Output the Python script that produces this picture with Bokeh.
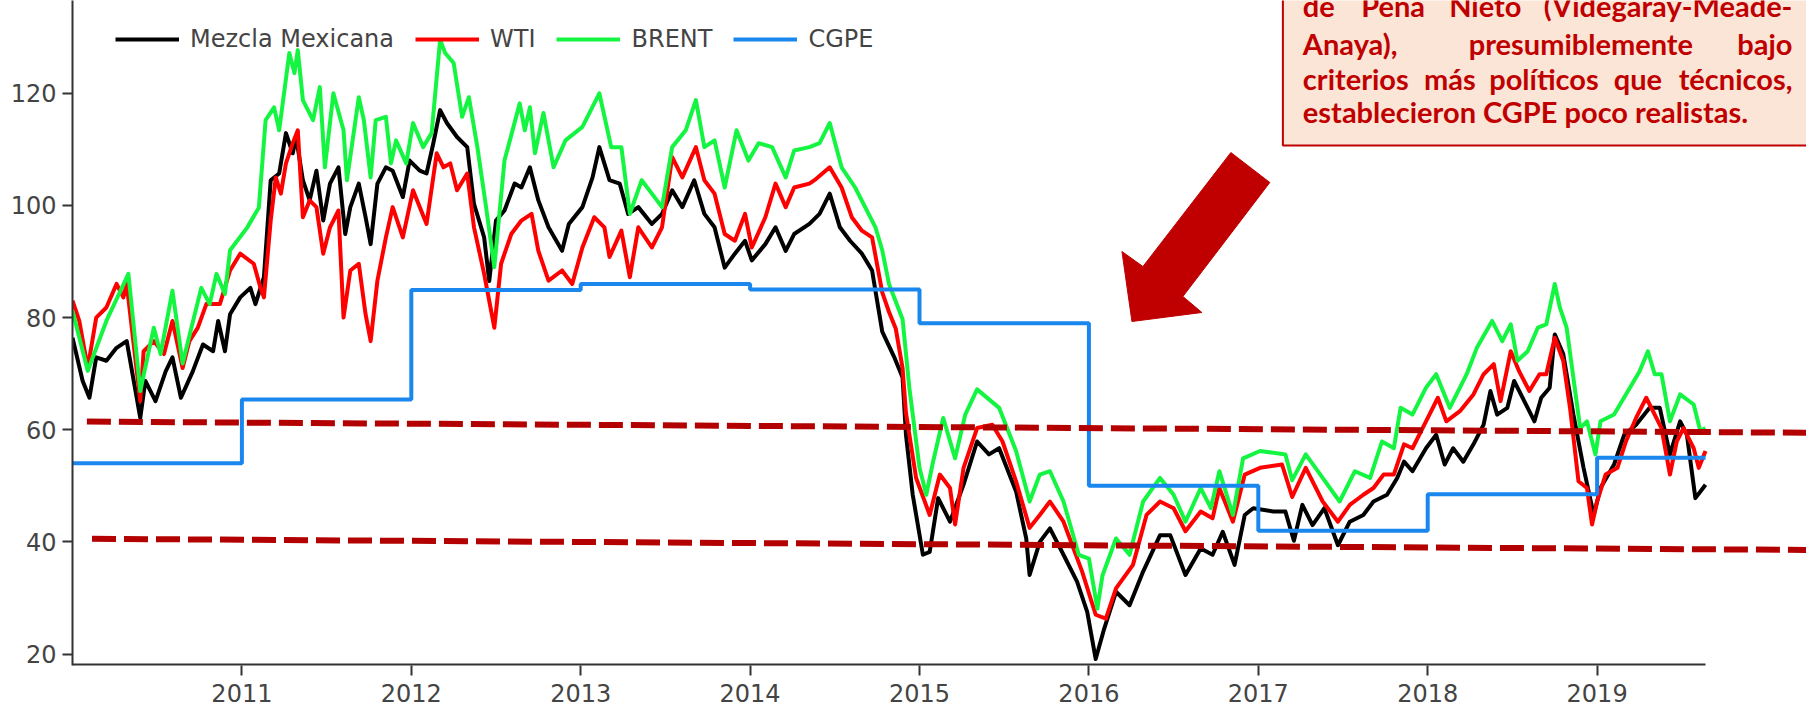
from bokeh.plotting import figure
from bokeh.models import Range1d, FixedTicker, Legend, LegendItem
from bokeh.core.properties import value
from bokeh.embed import file_html
from bokeh.resources import INLINE

# ---------------- data (decimal years, USD per barrel) ----------------
mezcla_t = [2010.00, 2010.06, 2010.10, 2010.14, 2010.20, 2010.26, 2010.32, 2010.40, 2010.43, 2010.49,
            2010.55, 2010.59, 2010.64, 2010.71, 2010.77, 2010.83, 2010.86, 2010.90, 2010.93, 2010.99,
            2011.05, 2011.08, 2011.13, 2011.17, 2011.22, 2011.26, 2011.30, 2011.32, 2011.36, 2011.40,
            2011.44, 2011.48, 2011.52, 2011.57, 2011.61, 2011.64, 2011.69, 2011.73, 2011.76, 2011.80,
            2011.85, 2011.89, 2011.95, 2011.99, 2012.05, 2012.09, 2012.13, 2012.17, 2012.21, 2012.27,
            2012.33, 2012.37, 2012.43, 2012.46, 2012.50, 2012.55, 2012.61, 2012.65, 2012.70, 2012.75,
            2012.81, 2012.89, 2012.93, 2013.01, 2013.07, 2013.11, 2013.17, 2013.23, 2013.28, 2013.34,
            2013.42, 2013.48, 2013.54, 2013.60, 2013.67, 2013.73, 2013.79, 2013.85, 2013.91, 2013.97,
            2014.01, 2014.09, 2014.15, 2014.21, 2014.26, 2014.35, 2014.41, 2014.47, 2014.53, 2014.59,
            2014.66, 2014.72, 2014.78, 2014.85, 2014.90, 2014.92, 2014.96, 2015.02, 2015.06, 2015.11,
            2015.18, 2015.26, 2015.34, 2015.41, 2015.47, 2015.57, 2015.63, 2015.65, 2015.71, 2015.77,
            2015.85, 2015.93, 2015.99, 2016.04, 2016.09, 2016.16, 2016.24, 2016.32, 2016.42, 2016.48,
            2016.57, 2016.66, 2016.73, 2016.79, 2016.86, 2016.92, 2016.97, 2017.09, 2017.16, 2017.21,
            2017.26, 2017.32, 2017.39, 2017.47, 2017.54, 2017.62, 2017.68, 2017.76, 2017.82, 2017.86,
            2017.91, 2017.99, 2018.05, 2018.10, 2018.15, 2018.21, 2018.27, 2018.33, 2018.37, 2018.41,
            2018.47, 2018.51, 2018.57, 2018.63, 2018.67, 2018.72, 2018.75, 2018.80, 2018.86, 2018.92,
            2018.98, 2019.02, 2019.10, 2019.16, 2019.23, 2019.31, 2019.37, 2019.43, 2019.49, 2019.53,
            2019.58, 2019.64]
mezcla = [76.4, 68.7, 65.7, 72.9, 72.3, 74.6, 75.8, 62.1, 68.7, 65.1,
          70.4, 72.9, 65.7, 70.4, 75.2, 74.0, 79.4, 74.0, 80.6, 83.6,
          85.3, 82.4, 87.2, 104.5, 105.7, 112.9, 109.3, 112.2, 104.5, 100.9,
          106.2, 97.3, 103.9, 106.8, 94.9, 99.7, 103.9, 97.9, 93.1, 103.9,
          106.8, 106.2, 101.5, 108.0, 106.2, 105.7, 111.1, 117.0, 114.7, 112.2,
          110.4, 100.3, 94.3, 86.5, 97.3, 99.1, 103.9, 103.2, 106.8, 100.9,
          96.1, 91.9, 96.7, 99.7, 105.0, 110.4, 104.5, 103.9, 98.5, 99.7,
          96.7, 98.5, 102.7, 99.7, 104.5, 98.5, 96.1, 88.9, 91.4, 93.7,
          90.2, 93.1, 96.1, 91.9, 94.9, 96.7, 98.5, 102.1, 96.1, 93.7,
          91.4, 88.4, 77.5, 73.0, 69.3, 59.1, 48.4, 37.7, 38.2, 47.8,
          43.6, 50.2, 57.9, 55.6, 56.7, 49.0, 40.6, 34.1, 40.0, 42.4,
          37.7, 32.9, 27.5, 19.1, 24.5, 31.1, 28.7, 34.7, 41.2, 41.2,
          34.1, 38.8, 37.7, 41.8, 35.9, 44.8, 46.0, 45.4, 45.4, 40.2,
          46.6, 43.0, 46.0, 39.4, 43.6, 44.8, 47.2, 48.4, 51.4, 54.3,
          52.6, 56.7, 59.1, 53.8, 56.7, 54.3, 57.4, 60.9, 66.9, 62.7,
          63.9, 68.7, 65.1, 61.5, 65.7, 67.5, 77.0, 73.5, 62.7, 53.2,
          44.8, 49.6, 53.8, 59.1, 60.9, 63.9, 63.9, 55.6, 61.5, 59.1,
          47.8, 50.2]

wti_t = [2010.00, 2010.04, 2010.09, 2010.14, 2010.20, 2010.26, 2010.30, 2010.32, 2010.40, 2010.42,
         2010.48, 2010.54, 2010.59, 2010.65, 2010.69, 2010.74, 2010.79, 2010.87, 2010.93, 2010.99,
         2011.07, 2011.11, 2011.13, 2011.17, 2011.20, 2011.23, 2011.26, 2011.30, 2011.33, 2011.36,
         2011.40, 2011.44, 2011.48, 2011.52, 2011.57, 2011.60, 2011.64, 2011.69, 2011.73, 2011.76,
         2011.80, 2011.85, 2011.89, 2011.95, 2012.01, 2012.09, 2012.15, 2012.19, 2012.23, 2012.27,
         2012.33, 2012.37, 2012.43, 2012.49, 2012.53, 2012.59, 2012.65, 2012.71, 2012.75, 2012.81,
         2012.89, 2012.95, 2013.01, 2013.08, 2013.14, 2013.17, 2013.24, 2013.29, 2013.34, 2013.42,
         2013.48, 2013.54, 2013.60, 2013.68, 2013.73, 2013.79, 2013.85, 2013.91, 2013.97, 2014.01,
         2014.09, 2014.15, 2014.21, 2014.26, 2014.35, 2014.38, 2014.47, 2014.54, 2014.60, 2014.66,
         2014.72, 2014.78, 2014.82, 2014.86, 2014.90, 2014.92, 2014.98, 2015.06, 2015.12, 2015.18,
         2015.21, 2015.26, 2015.34, 2015.43, 2015.49, 2015.57, 2015.65, 2015.71, 2015.77, 2015.85,
         2015.96, 2016.04, 2016.10, 2016.16, 2016.26, 2016.34, 2016.42, 2016.50, 2016.57, 2016.66,
         2016.73, 2016.77, 2016.85, 2016.92, 2017.01, 2017.14, 2017.20, 2017.28, 2017.38, 2017.47,
         2017.54, 2017.62, 2017.68, 2017.74, 2017.80, 2017.86, 2017.91, 2017.99, 2018.06, 2018.11,
         2018.19, 2018.27, 2018.33, 2018.39, 2018.43, 2018.49, 2018.54, 2018.60, 2018.66, 2018.70,
         2018.75, 2018.80, 2018.84, 2018.89, 2018.94, 2018.97, 2019.00, 2019.05, 2019.12, 2019.17,
         2019.23, 2019.29, 2019.34, 2019.38, 2019.43, 2019.47, 2019.51, 2019.57, 2019.60, 2019.64]
wti = [83.0, 79.4, 71.0, 80.0, 81.8, 86.0, 83.6, 86.0, 65.1, 74.0,
       75.8, 73.5, 79.4, 71.0, 75.8, 78.2, 82.4, 82.4, 88.4, 91.4,
       89.6, 85.3, 83.6, 97.3, 105.0, 102.1, 107.5, 111.1, 113.4, 97.9,
       100.9, 99.7, 91.4, 96.1, 99.1, 80.0, 88.4, 89.6, 80.6, 75.8,
       86.6, 94.3, 99.7, 94.3, 102.7, 96.7, 109.3, 106.8, 107.5, 102.7,
       105.7, 96.1, 87.8, 78.2, 89.6, 94.9, 97.3, 98.5, 91.9, 86.6,
       88.4, 86.0, 92.5, 97.9, 96.1, 90.8, 95.5, 87.2, 96.1, 92.5,
       96.1, 108.6, 105.0, 110.4, 104.5, 102.1, 94.9, 93.7, 98.5, 92.5,
       97.9, 103.9, 99.7, 103.2, 103.9, 104.5, 106.8, 103.2, 97.9, 95.5,
       94.3, 84.5, 81.0, 78.0, 71.0, 63.0, 51.4, 44.8, 52.0, 49.6,
       43.1, 53.2, 60.3, 60.9, 57.9, 50.8, 42.5, 44.8, 47.2, 43.6,
       34.7, 27.0, 26.3, 31.7, 35.9, 44.8, 47.2, 46.0, 41.9, 45.4,
       44.2, 49.6, 43.6, 52.0, 53.2, 53.8, 48.0, 53.2, 47.2, 43.6,
       46.6, 48.4, 49.6, 52.0, 52.0, 57.4, 56.7, 61.5, 65.7, 61.5,
       63.3, 66.3, 69.9, 71.7, 65.1, 74.0, 70.4, 66.9, 69.9, 69.9,
       76.4, 72.3, 63.9, 50.8, 49.6, 43.1, 47.2, 52.0, 53.2, 57.9,
       62.1, 65.7, 62.7, 60.3, 52.0, 57.9, 60.3, 56.7, 53.2, 56.2]

brent_t = [2010.00, 2010.09, 2010.20, 2010.33, 2010.40, 2010.48, 2010.52, 2010.59, 2010.65, 2010.76,
           2010.81, 2010.85, 2010.90, 2010.93, 2011.03, 2011.10, 2011.14, 2011.19, 2011.22, 2011.28,
           2011.31, 2011.33, 2011.36, 2011.42, 2011.46, 2011.49, 2011.54, 2011.60, 2011.62, 2011.69,
           2011.72, 2011.76, 2011.79, 2011.85, 2011.88, 2011.91, 2011.97, 2012.01, 2012.07, 2012.12,
           2012.17, 2012.20, 2012.25, 2012.30, 2012.34, 2012.39, 2012.44, 2012.49, 2012.55, 2012.64,
           2012.67, 2012.70, 2012.73, 2012.78, 2012.84, 2012.91, 2013.01, 2013.11, 2013.18, 2013.24,
           2013.29, 2013.36, 2013.42, 2013.48, 2013.54, 2013.62, 2013.68, 2013.73, 2013.79, 2013.85,
           2013.92, 2013.99, 2014.05, 2014.13, 2014.21, 2014.26, 2014.35, 2014.41, 2014.47, 2014.54,
           2014.62, 2014.74, 2014.78, 2014.82, 2014.90, 2014.94, 2015.00, 2015.04, 2015.08, 2015.14,
           2015.21, 2015.27, 2015.34, 2015.47, 2015.57, 2015.65, 2015.71, 2015.77, 2015.85, 2015.94,
           2016.00, 2016.05, 2016.08, 2016.16, 2016.24, 2016.32, 2016.42, 2016.50, 2016.57, 2016.66,
           2016.72, 2016.77, 2016.85, 2016.91, 2017.01, 2017.16, 2017.20, 2017.28, 2017.38, 2017.48,
           2017.57, 2017.66, 2017.73, 2017.80, 2017.84, 2017.91, 2017.99, 2018.05, 2018.13, 2018.23,
           2018.29, 2018.38, 2018.44, 2018.49, 2018.53, 2018.59, 2018.65, 2018.70, 2018.75, 2018.78,
           2018.82, 2018.90, 2018.94, 2018.99, 2019.02, 2019.10, 2019.17, 2019.25, 2019.30, 2019.34,
           2019.38, 2019.43, 2019.49, 2019.57, 2019.61, 2019.64]
brent = [81.2, 70.5, 79.4, 87.8, 66.9, 78.2, 73.5, 84.8, 71.8, 85.3,
         82.4, 87.8, 84.2, 92.0, 96.0, 99.6, 115.2, 117.5, 113.4, 127.2,
         123.6, 127.7, 118.8, 115.2, 121.1, 106.8, 120.0, 113.4, 104.5, 119.3,
         115.2, 105.0, 115.2, 115.8, 107.5, 111.6, 107.5, 114.7, 110.4, 112.9,
         129.5, 127.2, 125.4, 115.8, 119.3, 110.4, 100.0, 89.0, 108.0, 118.2,
         113.4, 117.5, 109.3, 116.5, 106.8, 111.6, 114.0, 120.0, 110.4, 110.4,
         98.5, 104.5, 102.1, 99.7, 110.4, 113.4, 118.8, 110.4, 111.6, 103.2,
         113.4, 108.0, 111.1, 110.4, 105.0, 109.8, 110.4, 111.1, 114.7, 106.8,
         103.2, 96.1, 92.0, 86.0, 79.7, 67.5, 53.2, 48.4, 54.3, 62.1,
         54.9, 62.7, 67.2, 63.9, 56.2, 47.2, 52.0, 52.6, 47.2, 37.7,
         37.0, 28.1, 34.0, 40.6, 37.7, 47.2, 51.4, 48.4, 43.6, 49.6,
         46.0, 52.6, 44.8, 54.9, 56.2, 55.6, 51.0, 55.6, 51.4, 47.2,
         52.6, 51.4, 57.9, 56.7, 63.9, 62.7, 67.5, 69.9, 63.9, 69.9,
         74.6, 79.4, 75.8, 78.8, 72.3, 74.0, 78.2, 78.8, 86.0, 81.8,
         78.2, 60.3, 61.5, 55.6, 61.5, 62.7, 66.3, 70.4, 74.0, 69.9,
         69.9, 61.5, 66.3, 64.5, 59.7, 60.3]

cgpe_t = [2010.00, 2011, 2012, 2013, 2014, 2015, 2016, 2017, 2018, 2019, 2019.64]
cgpe = [54.0, 65.4, 84.9, 86.0, 85.0, 79.0, 50.0, 42.0, 48.5, 55.0, 55.0]

series_names = ["Mezcla Mexicana", "WTI", "BRENT", "CGPE"]
x_ticks = [2011, 2012, 2013, 2014, 2015, 2016, 2017, 2018, 2019]
x_tick_labels = ["2011", "2012", "2013", "2014", "2015", "2016", "2017", "2018", "2019"]
y_ticks = [20, 40, 60, 80, 100, 120]

# ---------------- annotations (data units) ----------------
upper_band = ([2010.085, 2020.30], [61.45, 59.45])
lower_band = ([2010.115, 2020.30], [40.55, 38.55])
arrow_x = [2016.838, 2017.068, 2016.555, 2016.667, 2016.254, 2016.195, 2016.319]
arrow_y = [109.44, 104.09, 83.76, 80.91, 79.30, 91.79, 89.11]
box_left, box_bottom = 2017.145, 110.7
note_left, note_right = 2017.263, 2020.153
note_rows = [135.66, 128.8, 122.7, 116.8]
note_lines = [
    ["de", "Peña", "Nieto", "(Videgaray-Meade-"],
    ["Anaya),", "presumiblemente", "bajo"],
    ["criterios", "más", "políticos", "que", "técnicos,"],
]
note_mid_x = [[2017.796, 2018.340], [2018.904], [2018.131, 2018.686, 2019.241]]
note_last = "establecieron CGPE poco realistas."

X0, X1 = 2010.0, 2020.236
Y0, Y1 = 17.95, 136.55

p = figure(width=1806, height=710, output_backend="svg", toolbar_location=None,
           x_range=Range1d(X0, X1), y_range=Range1d(Y0, Y1),
           min_border_left=72, min_border_right=0, min_border_top=0, min_border_bottom=45)
p.background_fill_color = "white"
p.border_fill_color = "white"
p.outline_line_color = None
p.xgrid.grid_line_color = None
p.ygrid.grid_line_color = None

AX = "#333333"
TXT = "#444444"
for ax in (p.xaxis[0], p.yaxis[0]):
    ax.major_label_text_font = "DejaVu Sans"
    ax.major_label_text_font_size = "24px"
    ax.major_label_text_color = TXT
    ax.major_tick_line_color = AX
    ax.major_tick_line_width = 2
    ax.major_tick_out = 10
    ax.major_tick_in = 0
    ax.minor_tick_line_color = None
    ax.axis_line_width = 2
    ax.axis_line_color = AX

p.yaxis.ticker = FixedTicker(ticks=y_ticks)
p.yaxis.major_label_standoff = 6
p.xaxis.ticker = FixedTicker(ticks=x_ticks)
p.xaxis.major_label_overrides = {t: s for t, s in zip(x_ticks, x_tick_labels)}
p.xaxis.major_label_standoff = 8
p.xaxis.major_label_text_line_height = 0.9
p.xaxis.axis_line_color = None
# x axis line only as far as the data
p.line([X0, cgpe_t[-1]], [Y0, Y0], line_color=AX, line_width=4)

r_mez = p.line(mezcla_t, mezcla, line_color="#000000", line_width=4, line_join="round")
r_wti = p.line(wti_t, wti, line_color="#FF0000", line_width=4, line_join="round")
r_bre = p.line(brent_t, brent, line_color="#14F542", line_width=4, line_join="round")
r_cg = p.step(cgpe_t, cgpe, mode="after", line_color="#1A87EE", line_width=4)

# red dashed bands
for xs, ys in (upper_band, lower_band):
    p.line(xs, ys, line_color="#B30000", line_width=6, line_dash="24 8")

# block arrow
p.patch(arrow_x, arrow_y, fill_color="#C00000", line_color="#C00000", line_width=1)

# note box
p.quad(left=[box_left], right=[X1 + 1], bottom=[box_bottom], top=[Y1 + 10],
       fill_color="#FBE5D6", line_color="#C00000", line_width=2)

tf = dict(text_font=value("Lato"), text_font_style="bold", text_font_size="29px",
          text_color="#C00000", text_baseline="middle")
for row, words, mids in zip(note_rows, note_lines, note_mid_x):
    p.text([note_left], [row], text=[words[0]], text_align="left", **tf)
    p.text(mids, [row] * len(mids), text=words[1:-1], text_align="center", **tf)
    p.text([note_right], [row], text=[words[-1]], text_align="right", **tf)
p.text([note_left], [note_rows[3]], text=[note_last], text_align="left", **tf)

legend = Legend(items=[LegendItem(label=n, renderers=[r]) for n, r in
                       zip(series_names, [r_mez, r_wti, r_bre, r_cg])],
                location=(43, 612), orientation="horizontal",
                glyph_width=64, glyph_height=20, label_standoff=11, spacing=21,
                padding=0, margin=0, background_fill_alpha=0, border_line_alpha=0,
                label_text_font="DejaVu Sans", label_text_font_size="24px",
                label_text_color=TXT)
p.add_layout(legend)

open("out.html", "w").write(file_html(p, INLINE))
